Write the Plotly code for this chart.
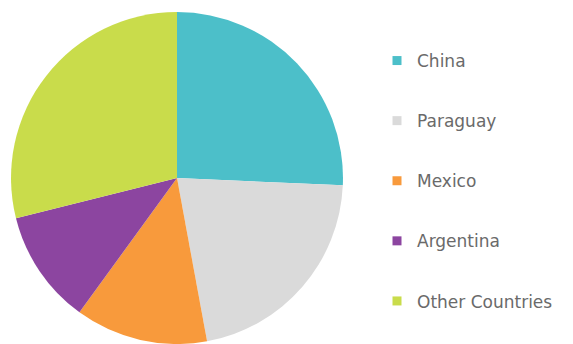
import plotly.graph_objects as go

countries = ["China", "Paraguay", "Mexico", "Argentina", "Other Countries"]
shares = [25.7, 21.4, 12.9, 11.1, 28.9]
colors = ["#4CBFC9", "#DADADA", "#F89A3C", "#8C45A0", "#C9DC4B"]

fig = go.Figure()
fig.add_trace(go.Pie(
    labels=countries, values=shares, sort=False, direction="clockwise",
    rotation=0, textinfo="none", hoverinfo="label+percent",
    marker=dict(colors=colors, line=dict(width=0)),
    domain=dict(x=[11/573, 343/573], y=[0, 0.965]),
    showlegend=False,
))
for i, (c, col) in enumerate(zip(countries, colors)):
    fig.add_trace(go.Scatter(
        x=[None], y=[None], mode="markers", name=c, legendgroup=c,
        marker=dict(symbol="square", size=9, color=col),
    ))

fig.update_layout(
    width=573, height=344, margin=dict(l=0, r=0, t=0, b=0),
    paper_bgcolor="white", plot_bgcolor="white",
    xaxis=dict(visible=False), yaxis=dict(visible=False),
    legend=dict(x=377/573, xanchor="left", y=1-181/344, yanchor="middle",
                tracegroupgap=35, font=dict(family="DejaVu Sans", size=17, color="#6A6A6A"),
                bgcolor="rgba(0,0,0,0)"),
)
fig.write_html("out.html")
